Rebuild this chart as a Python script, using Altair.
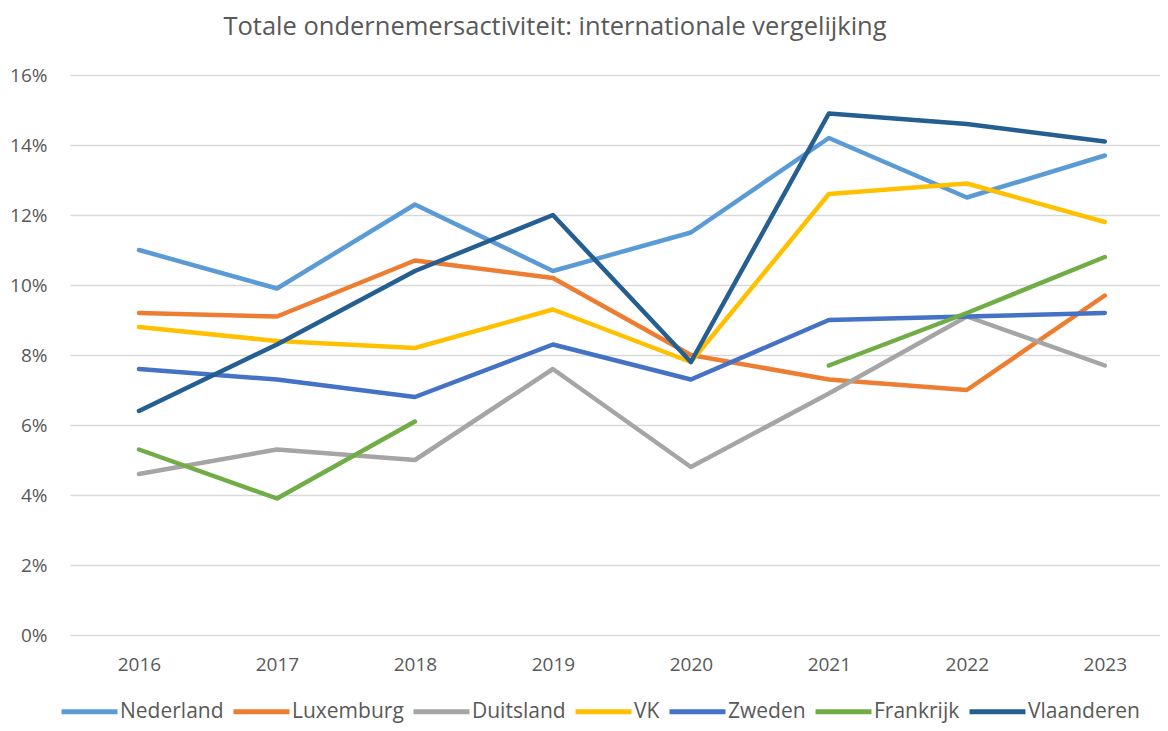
import altair as alt
import pandas as pd

years = [2016, 2017, 2018, 2019, 2020, 2021, 2022, 2023]
landen = ["Nederland", "Luxemburg", "Duitsland", "VK", "Zweden", "Frankrijk", "Vlaanderen"]
kleuren = ["#5B9BD5", "#ED7D31", "#A5A5A5", "#FFC000", "#4472C4", "#70AD47", "#255E91"]

nederland = [11.0, 9.9, 12.3, 10.4, 11.5, 14.2, 12.5, 13.7]
luxemburg = [9.2, 9.1, 10.7, 10.2, 8.0, 7.3, 7.0, 9.7]
duitsland = [4.6, 5.3, 5.0, 7.6, 4.8, 6.9, 9.1, 7.7]
vk = [8.8, 8.4, 8.2, 9.3, 7.8, 12.6, 12.9, 11.8]
zweden = [7.6, 7.3, 6.8, 8.3, 7.3, 9.0, 9.1, 9.2]
frankrijk = [5.3, 3.9, 6.1, None, None, 7.7, 9.2, 10.8]
vlaanderen = [6.4, 8.3, 10.4, 12.0, 7.8, 14.9, 14.6, 14.1]

series = [nederland, luxemburg, duitsland, vk, zweden, frankrijk, vlaanderen]

rows = []
for land, vals in zip(landen, series):
    seg = 0
    prev_none = False
    for yr, v in zip(years, vals):
        if v is None:
            prev_none = True
            continue
        if prev_none:
            seg += 1
            prev_none = False
        rows.append({"Jaar": yr, "Land": land, "Seg": f"{land}-{seg}", "Waarde": v / 100})
df = pd.DataFrame(rows)

FONT = "Open Sans"
GREY = "#595959"

chart = alt.Chart(df).mark_line(strokeWidth=4.5, strokeCap="round", strokeJoin="round").encode(
    x=alt.X("Jaar:Q",
            scale=alt.Scale(domain=[2015.5, 2023.4], nice=False, zero=False),
            axis=alt.Axis(title=None, values=years, format="d", grid=False, domain=False,
                          ticks=False, labelFontSize=19, labelFont=FONT, labelColor=GREY,
                          labelPadding=20)),
    y=alt.Y("Waarde:Q",
            scale=alt.Scale(domain=[0, 0.16], nice=False),
            axis=alt.Axis(title=None, values=[0, 0.02, 0.04, 0.06, 0.08, 0.10, 0.12, 0.14, 0.16],
                          format=".0%", domain=False, ticks=False, gridColor="#D9D9D9",
                          gridWidth=1.5, labelFontSize=19, labelFont=FONT, labelColor=GREY,
                          labelPadding=23)),
    color=alt.Color("Land:N", sort=landen,
                    scale=alt.Scale(domain=landen, range=kleuren),
                    legend=alt.Legend(title=None, orient="none", direction="horizontal",
                                      legendX=-11, legendY=606, symbolType="stroke",
                                      symbolSize=3136, symbolStrokeWidth=5, labelOffset=0,
                                      columnPadding=-1, labelFontSize=21, labelFont=FONT,
                                      labelColor=GREY)),
    detail="Seg:N",
).properties(
    width=1090,
    height=560,
    title=alt.TitleParams(text="Totale ondernemersactiviteit: internationale vergelijking",
                          fontSize=25.5, font=FONT, color=GREY, fontWeight="normal",
                          dx=-60, offset=26),
    autosize=alt.AutoSizeParams(type="none"),
    padding={"left": 62, "top": 67, "right": 0, "bottom": 88},
).configure_view(stroke=None)

chart.save("out.html", embed_options={"renderer": "svg", "actions": False})
